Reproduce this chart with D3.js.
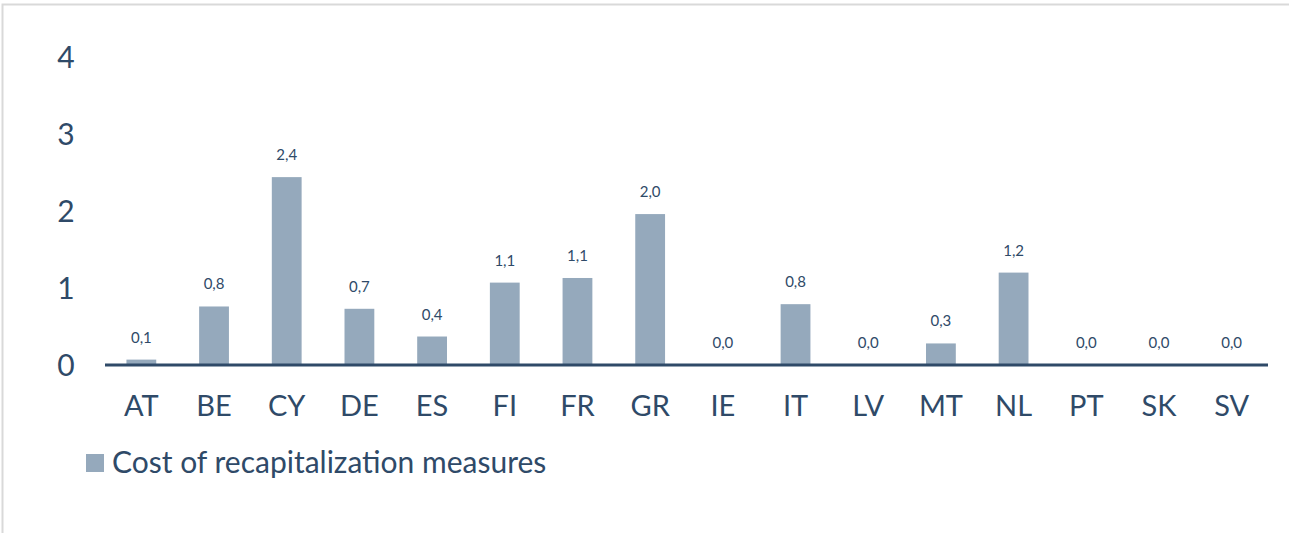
<!DOCTYPE html>
<html>
<head>
<meta charset="utf-8">
<script src="https://cdn.jsdelivr.net/npm/d3@7"></script>
<style>
  body { margin: 0; background: #fff; }
  svg { display: block; font-family: Lato, "Open Sans", sans-serif; }
</style>
</head>
<body>
<div id="chart"></div>
<script>
const categories = ["AT", "BE", "CY", "DE", "ES", "FI", "FR", "GR", "IE", "IT", "LV", "MT", "NL", "PT", "SK", "SV"];
const values = [0.07, 0.76, 2.44, 0.73, 0.37, 1.07, 1.13, 1.96, 0, 0.79, 0, 0.28, 1.2, 0, 0, 0];
const yTicks = [0, 1, 2, 3, 4];
const seriesName = "Cost of recapitalization measures";

const width = 1289, height = 533;
const navy = "#2f4a68";
const barColor = "#95a9bc";

const svg = d3.select("#chart").append("svg")
  .attr("width", width)
  .attr("height", height);

// frame
svg.append("path")
  .attr("d", `M2.5,${height} V4.5 H${width}`)
  .attr("fill", "none")
  .attr("stroke", "#d9d9d9")
  .attr("stroke-width", 2);

const x = d3.scaleBand()
  .domain(categories)
  .range([105, 1268])
  .paddingInner(0.59)
  .paddingOuter(0.295);

const y = d3.scaleLinear()
  .domain([0, 4])
  .range([365, 57]);

const fmt = v => d3.format(".1f")(v).replace(".", ",");

// y axis labels
svg.append("g")
  .selectAll("text")
  .data(yTicks)
  .join("text")
  .attr("x", 66)
  .attr("y", d => y(d))
  .attr("dy", "0.36em")
  .attr("text-anchor", "middle")
  .attr("fill", navy)
  .style("font-size", "30px")
  .text(d => d);

// bars
svg.append("g")
  .selectAll("rect")
  .data(values)
  .join("rect")
  .attr("x", (d, i) => x(categories[i]))
  .attr("y", d => y(d))
  .attr("width", x.bandwidth())
  .attr("height", d => y(0) - y(d))
  .attr("fill", barColor);

// value labels
svg.append("g")
  .selectAll("text")
  .data(values)
  .join("text")
  .attr("x", (d, i) => x(categories[i]) + x.bandwidth() / 2)
  .attr("y", d => y(d) - 17)
  .attr("text-anchor", "middle")
  .attr("fill", navy)
  .style("font-size", "15px")
  .text(d => fmt(d));

// baseline
svg.append("line")
  .attr("x1", 105)
  .attr("x2", 1268)
  .attr("y1", y(0))
  .attr("y2", y(0))
  .attr("stroke", navy)
  .attr("stroke-width", 3);

// category labels
svg.append("g")
  .selectAll("text")
  .data(categories)
  .join("text")
  .attr("x", d => x(d) + x.bandwidth() / 2)
  .attr("y", 416)
  .attr("text-anchor", "middle")
  .attr("fill", navy)
  .style("font-size", "29px")
  .text(d => d);

// legend
const legend = svg.append("g");
legend.append("rect")
  .attr("x", 86)
  .attr("y", 454)
  .attr("width", 18)
  .attr("height", 18)
  .attr("fill", barColor);
legend.append("text")
  .attr("x", 112)
  .attr("y", 473)
  .attr("fill", navy)
  .style("font-size", "30px")
  .text(seriesName);
</script>
</body>
</html>
